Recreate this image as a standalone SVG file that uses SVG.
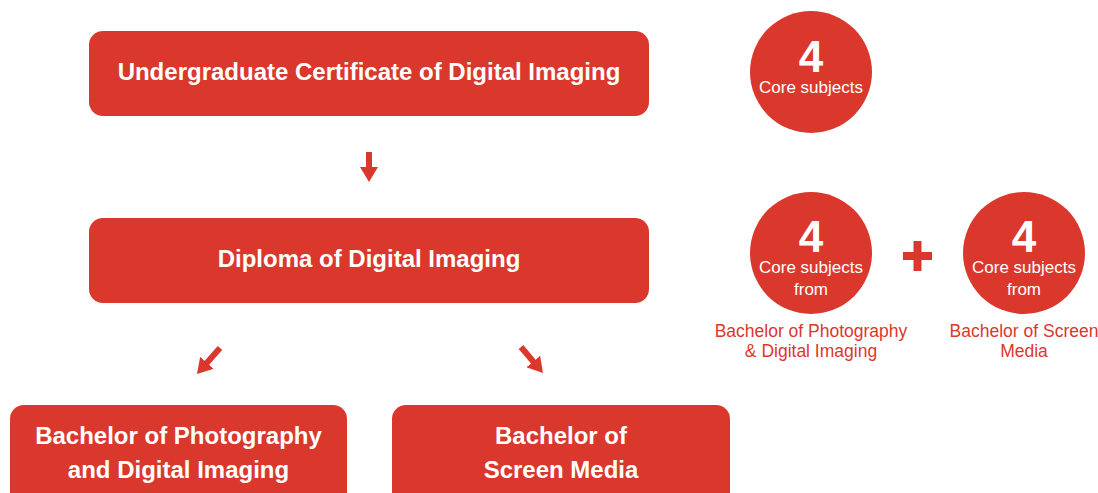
<svg xmlns="http://www.w3.org/2000/svg" width="1098" height="493" viewBox="0 0 1098 493">
<defs>
<style>
.box{fill:#DA382C}
.circ{fill:#DA382C}
.bt{font-family:"Liberation Sans",Arial,sans-serif;font-weight:bold;font-size:24px;fill:#fff;text-anchor:middle}
.num{font-family:"Liberation Sans",Arial,sans-serif;font-weight:bold;font-size:44px;fill:#fff;text-anchor:middle}
.ct{font-family:"Liberation Sans",Arial,sans-serif;font-size:17px;fill:#fff;text-anchor:middle}
.lab{font-family:"Liberation Sans",Arial,sans-serif;font-size:17.5px;fill:#DA382C;text-anchor:middle}
.con{stroke:#DA382C;stroke-width:6;fill:none}
</style>
<marker id="ah" markerUnits="userSpaceOnUse" markerWidth="15" markerHeight="18" refX="5" refY="9" orient="auto" viewBox="0 0 15 18">
<path d="M0,0 L15,9 L0,18 z" fill="#DA382C"/>
</marker>
</defs>
<rect width="1098" height="493" fill="#fff"/>
<g id="connectors">
<line class="con" x1="369" y1="152" x2="369" y2="172" marker-end="url(#ah)"/>
<line class="con" x1="220" y1="348" x2="203.6" y2="366.5" marker-end="url(#ah)"/>
<line class="con" x1="521" y1="347" x2="536.5" y2="365.4" marker-end="url(#ah)"/>
</g>
<g id="cert">
<rect class="box" x="89" y="31" width="560" height="85" rx="14"/>
<text class="bt" x="369" y="80">Undergraduate Certificate of Digital Imaging</text>
</g>
<g id="diploma">
<rect class="box" x="89" y="218" width="560" height="85" rx="14"/>
<text class="bt" x="369" y="267">Diploma of Digital Imaging</text>
</g>
<g id="bachelor-photo">
<rect class="box" x="10" y="405" width="337" height="110" rx="14"/>
<text class="bt" x="178.5" y="444">Bachelor of Photography</text>
<text class="bt" x="178.5" y="478">and Digital Imaging</text>
</g>
<g id="bachelor-screen">
<rect class="box" x="392" y="405" width="338" height="110" rx="14"/>
<text class="bt" x="561" y="444">Bachelor of</text>
<text class="bt" x="561" y="478">Screen Media</text>
</g>
<g id="circle-cert">
<circle class="circ" cx="811" cy="72" r="61"/>
<text class="num" x="811" y="72">4</text>
<text class="ct" x="811" y="93">Core subjects</text>
</g>
<g id="circle-photo">
<circle class="circ" cx="811" cy="253" r="61"/>
<text class="num" x="811" y="252">4</text>
<text class="ct" x="811" y="273">Core subjects</text>
<text class="ct" x="811" y="295">from</text>
<text class="lab" x="811" y="337">Bachelor of Photography</text>
<text class="lab" x="811" y="357">&amp; Digital Imaging</text>
</g>
<g id="plus">
<rect class="box" x="903" y="252" width="29" height="8"/>
<rect class="box" x="913.5" y="241" width="8" height="30"/>
</g>
<g id="circle-screen">
<circle class="circ" cx="1024" cy="253" r="61"/>
<text class="num" x="1024" y="252">4</text>
<text class="ct" x="1024" y="273">Core subjects</text>
<text class="ct" x="1024" y="295">from</text>
<text class="lab" x="1024" y="337">Bachelor of Screen</text>
<text class="lab" x="1024" y="357">Media</text>
</g>
</svg>
